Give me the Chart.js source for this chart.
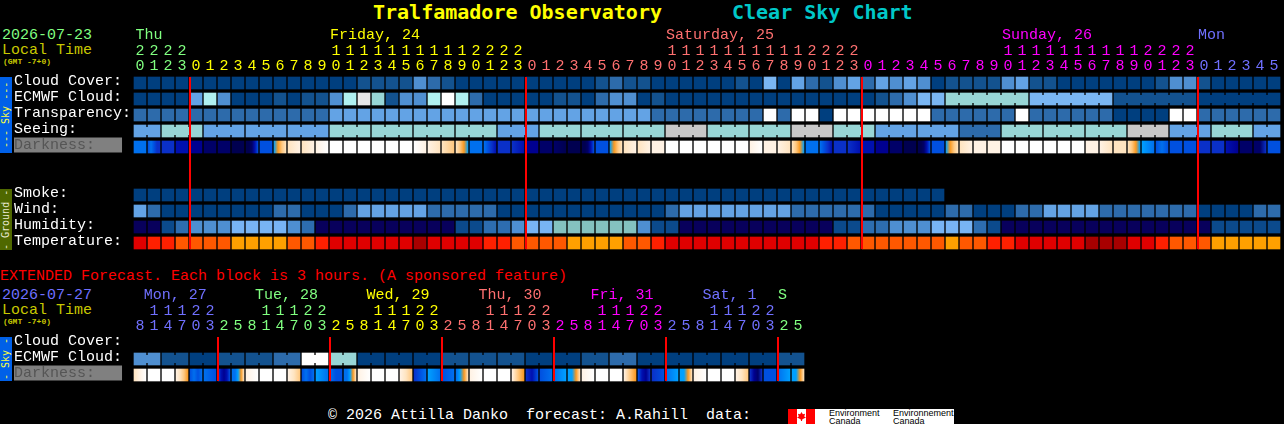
<!DOCTYPE html>
<html>
<head>
<meta charset="utf-8">
<script src="https://cdnjs.cloudflare.com/ajax/libs/Chart.js/4.4.1/chart.umd.min.js"></script>
<style>
  body { margin:0; background:#000; width:1284px; height:424px; overflow:hidden; position:relative; }
  canvas { position:absolute; left:0; }
  .t { position:absolute; white-space:pre; font-family:"Liberation Mono",monospace; font-size:15px; line-height:15px; }
  .title { font-family:"DejaVu Sans Mono",monospace; font-weight:bold; font-size:20px; line-height:24px; }
  .tiny { font-size:8px; line-height:8px; font-weight:bold; color:#c8c800; }
  .side { position:absolute; left:0; width:12px; writing-mode:vertical-rl; transform:rotate(180deg); text-align:center;
          font-family:"DejaVu Sans Mono",monospace; font-size:10px; line-height:12px; white-space:pre; }
  #logo { position:absolute; left:788px; top:409px; width:166px; height:15px; background:#fff; overflow:hidden; }
  #logo i { position:absolute; top:0; height:15px; width:9px; background:#f00; }
  #logo b { position:absolute; left:9px; top:3px; width:9px; height:9px; background:#f00;
            clip-path:polygon(50% 0,65% 25%,90% 20%,80% 50%,100% 60%,60% 80%,55% 100%,45% 100%,40% 80%,0 60%,20% 50%,10% 20%,35% 25%); }
  #logo span { position:absolute; font:9px/8px "Liberation Sans",sans-serif; color:#000; white-space:pre; top:0; }
</style>
<script>
// hour of each column, main forecast
var hours = ["20","21","22","23","0","1","2","3","4","5","6","7","8","9","10","11","12","13","14","15","16","17","18","19","20","21","22","23",
  "0","1","2","3","4","5","6","7","8","9","10","11","12","13","14","15","16","17","18","19","20","21","22","23",
  "0","1","2","3","4","5","6","7","8","9","10","11","12","13","14","15","16","17","18","19","20","21","22","23",
  "0","1","2","3","4","5"];
// which day each column belongs to
var hourDay = [0,0,0,0, 1,1,1,1,1,1,1,1,1,1,1,1,1,1,1,1,1,1,1,1,1,1,1,1,
  2,2,2,2,2,2,2,2,2,2,2,2,2,2,2,2,2,2,2,2,2,2,2,2,
  3,3,3,3,3,3,3,3,3,3,3,3,3,3,3,3,3,3,3,3,3,3,3,3, 4,4,4,4,4,4];
var dayNames = ["Thu","Friday, 24","Saturday, 25","Sunday, 26","Mon"];
var dayCols = [0.1,14,38,62,76];
var dayColors = ["#80ff80","#ffff00","#ff7070","#ff00ff","#7070ff"];
var midnightCols = [4,28,52,76];
var rowLabels = ["Cloud Cover:","ECMWF Cloud:","Transparency:","Seeing:","Darkness:   ","","","Smoke:","Wind:","Humidity:","Temperature:"];

// levels, looked up in the palettes further down
var cloud = [0,0,0,0,0,0,0,0,0,0,0,0,0,0,0,0,1,1,1,1,3,2,1,0,0,0,0,0,0,0,0,0,0,1,2,1,1,0,0,0,0,0,0,1,0,5,0,4,2,1,3,4,
  2,4,3,4,3,0,1,1,1,1,3,4,1,1,0,0,0,0,0,0,0,1,3,3,1,0,0,0,0,0];
var ecmwf = [0,0,0,0,4,7,3,0,0,0,1,0,1,1,3,7,8,6,1,3,3,7,9,7,2,0,0,0,0,0,1,1,0,2,3,3,0,1,0,0,0,0,0,0,0,0,0,0,0,0,0,0,
  0,1,2,3,5,5,6,6,6,6,6,6,5,5,5,5,5,5,1,1,1,1,1,1,0,0,0,0,0,0];
var transparency = [2,2,2,2,2,2,2,2,2,2,2,2,2,2,4,4,4,4,4,4,4,4,4,4,4,4,4,4,4,4,4,4,4,4,4,4,4,2,2,2,2,2,2,2,2,9,2,9,9,0,9,9,
  9,9,9,9,9,2,2,2,2,2,2,9,2,2,2,2,2,2,0,0,0,0,9,9,2,2,2,2,2,2];
var seeing = [4,4,6,6,6,4,4,4,4,4,4,4,4,4,6,6,6,6,6,6,6,6,6,6,6,6,4,4,4,6,6,6,6,6,6,6,6,6,10,10,10,6,6,6,6,6,6,10,10,10,6,6,
  6,4,4,4,4,4,4,2,2,2,6,6,6,6,6,6,6,6,6,10,10,10,4,4,4,6,6,6,4,4];
var seeingBlocks = [2,3,3,3,3,3,3,3,3,3,3,3,3,3,3,3,3,3,3,3,3,3,3,3,3,3,3,2];
var ecmwfBlocks = [58,6,6,6,6];
var darkness = [[6],[5,6,5,4,4],[4],[3],[2],[1],[1],[0],[0,0,1,3,5],[5],[7,8,9,10],[10,11],[10,11],[11,12],[12],[12],[12],[12],[12],[12],
  [12,11],[11,10],[10,9],[10,9,8,7],[6],[6,5,4,3],[4],[4,3],[2],[1],[1,0],[0],[0,0,1,3,5],[5],[7,8,9,10],[10,11],[10,11],[11],[12],[12],[12],[12],[12],[12],
  [11,12],[11],[11,10],[10,9,8,7],[6],[6,5,4,3],[4],[4,3],[3],[2],[1],[0],[0,0,1,3,5],[5],[7,8,9,10],[10,11],[11],[11],[12],[12],[12],[12],[12],[12],
  [11],[11,10],[10],[10,9,8,7],[7,6],[5,6,5],[5],[5],[4],[4],[3,2],[1],[1,1,4],[5]];
var smoke = [0,0,0,0,0,0,0,0,0,0,0,0,0,0,0,0,0,0,0,0,0,0,0,0,0,0,0,0,0,0,0,0,0,0,0,0,0,0,0,0,0,0,0,0,0,0,0,0,0,0,0,0,
  0,0,0,0,0,0,null,null,null,null,null,null,null,null,null,null,null,null,null,null,null,null,null,null,null,null,null,null,null,null];
var wind = [4,2,0,0,0,0,0,0,0,0,2,2,0,0,0,2,4,4,4,4,4,2,2,2,2,2,0,0,0,0,0,0,0,0,0,0,0,0,2,4,4,4,4,4,4,4,4,2,2,2,2,2,
  2,0,0,0,0,0,2,2,0,0,0,2,2,4,4,4,4,2,2,2,2,2,2,2,0,0,0,0,2,2];
var humidity = [0,0,1,2,3,3,3,4,4,4,4,3,2,0,0,0,0,0,0,0,0,0,0,1,1,2,2,3,4,4,5,5,5,5,5,5,3,1,1,0,0,0,0,0,0,0,0,0,0,0,1,1,
  2,2,3,3,3,4,4,4,2,1,0,0,0,0,0,0,0,0,0,0,0,0,0,0,0,1,1,1,1,1];
var temperature = [1,2,2,3,3,3,3,4,4,4,4,3,3,2,1,1,1,1,1,1,0,1,1,1,1,2,2,3,3,3,3,4,4,4,4,3,3,2,1,1,1,1,1,1,1,1,1,1,1,2,2,3,
  3,3,3,3,3,3,4,3,3,2,2,1,1,1,1,1,0,0,0,1,1,2,3,3,3,4,4,4,4,4];

// extended forecast, 3 hour blocks
var extHours = ["8","11","14","17","20","23","2","5","8","11","14","17","20","23","2","5","8","11","14","17","20","23","2","5",
  "8","11","14","17","20","23","2","5","8","11","14","17","20","23","2","5","8","11","14","17","20","23","2","5"];
var extHourDay = [0,0,0,0,0,0, 1,1,1,1,1,1,1,1, 2,2,2,2,2,2,2,2, 3,3,3,3,3,3,3,3, 4,4,4,4,4,4,4,4, 5,5,5,5,5,5,5,5, 6,6];
var extDayNames = ["Mon, 27","Tue, 28","Wed, 29","Thu, 30","Fri, 31","Sat, 1","S"];
var extDayX = [0.7,8.65,16.6,24.6,32.6,40.6,46];
var extDayColors = ["#7070ff","#80ff80","#ffff00","#ff7070","#ff00ff","#7070ff","#80ff80"];
var extMidnightCols = [6,14,22,30,38,46];
var extRowLabels = ["Cloud Cover:","ECMWF Cloud:","Darkness:   "];
var extEcmwf = [3,3,1,1,0,0,1,1,1,1,2,2,9,9,6,6,0,0,0,0,0,0,1,1,1,1,1,1,0,0,0,0,1,1,2,2,0,0,0,0,0,0,0,0,0,0,1,1];
var extEcmwfBlocks = [2,2,2,2,2,2,2,2,2,2,2,2,2,2,2,2,2,2,2,2,2,2,2,2];
var extDarkness = [[10,11,12],[12],[12],[11,10,9,8],[5,6,5,6],[6,5],[5,3,2,3,5],[6,6,7,8,10],[11,12],[12],[12],[11,10,9],
  [5,6,5,6],[7,6],[6,5,5],[6,6,7,8,10],[11,12],[12],[12],[11,10,9],[4,5,6],[7,6],[5,6],[6,7,8,10],
  [11,12],[12],[12],[11,9,8],[4,3,5],[5,6],[6,7],[7,7,8,10],[11,12],[12],[12],[11,9,8],
  [5,3,2,4],[4,5],[6,7],[7,7,8,10],[11,12],[12],[12],[11,10,9],[4,2,1,4],[5],[6,7],[7,7,8,10]];

// palettes
var skyColors = ["#003f7f","#13528f","#2d6bab","#4f8fd1","#63a3e5","#7ab6f2","#98d6d6","#b0f0f0","#e8e8e8","#ffffff","#c8c8c8"];
var humidityColors = ["#08005c","#0b4a8c","#2d6db0","#4e8fd2","#78b4f4","#84c2c0"];
var temperatureColors = ["#a80000","#e00000","#ff2000","#ff5800","#ffa000"];
var darknessColors = ["#000050","#000068","#000090","#0010b0","#0a30c8","#0050e0","#0070ee","#00a0ff","#f89820","#ffc880","#ffe4c0","#fff2e4","#ffffff"];

var FONT = "'Liberation Mono', monospace";
var CELL = 12, JOIN = 8;

function rowBars(values, row, palette) {
  return {
    type: 'bar', label: rowLabels[row] || '',
    data: values.map(function(v) { return v === null ? null : [row - 0.375, row + 0.375]; }),
    backgroundColor: function(c) { var v = values[c.dataIndex]; return palette[v === undefined || v === null ? 0 : v]; },
    barThickness: CELL, grouped: false, borderWidth: 0
  };
}

function darkBars(cells, row) {
  return {
    type: 'bar', label: 'Darkness',
    data: cells.map(function() { return [row - 0.375, row + 0.375]; }),
    backgroundColor: function(c) {
      var stops = cells[c.dataIndex];
      if (!stops) return '#000';
      if (stops.length == 1) return darknessColors[stops[0]];
      var x = c.chart.scales.x.getPixelForValue(c.dataIndex);
      // options of the first element get resolved once before the layout is done
      if (!isFinite(x)) return darknessColors[stops[0]];
      var g = c.chart.ctx.createLinearGradient(x - CELL / 2, 0, x + CELL / 2, 0);
      for (var i = 0; i < stops.length; i++) g.addColorStop(i / (stops.length - 1), darknessColors[stops[i]]);
      return g;
    },
    barThickness: CELL, grouped: false, borderWidth: 0
  };
}

// the narrow bridge between cells of one multi-hour block
function blockJoin(values, blocks, row, palette) {
  var blockOf = [], n = 0;
  blocks.forEach(function(len, b) { for (var i = 0; i < len; i++) blockOf[n++] = b; });
  var first = blocks.length > 1 && blocks[0] > 6 ? blocks[0] : 0;
  return {
    type: 'line', label: 'join',
    data: values.map(function(v, i) { return i < first ? null : row; }),
    borderWidth: JOIN, pointRadius: 0, borderCapStyle: 'butt', tension: 0,
    segment: { borderColor: function(c) {
      return blockOf[c.p0DataIndex] === blockOf[c.p1DataIndex] ? palette[values[c.p0DataIndex]] : 'rgba(0,0,0,0)';
    } }
  };
}

function hourTick(v, i, labels) {
  var s = labels[i];
  return s.length > 1 ? [s[0], s[1]] : ['', s];
}

function makeChart(id, labels, colorOf, rows, lines, dayNamesIn, dayPos, dayCol, yMax, datasets) {
  var overlay = {
    id: 'overlay',
    afterDatasetsDraw: function(chart) {
      var ctx = chart.ctx, x = chart.scales.x, y = chart.scales.y;
      var top = y.getPixelForValue(0) - CELL / 2, bottom = y.getPixelForValue(yMax) + CELL / 2;
      ctx.save();
      ctx.fillStyle = '#ff0000';
      lines.forEach(function(c) { ctx.fillRect(x.getPixelForValue(c) - 7, top, 2, bottom - top); });
      ctx.restore();
    },
    afterDraw: function(chart) {
      var ctx = chart.ctx, x = chart.scales.x;
      ctx.save();
      ctx.font = "15px " + FONT;
      ctx.textAlign = 'left'; ctx.textBaseline = 'middle';
      dayNamesIn.forEach(function(name, i) {
        ctx.fillStyle = dayCol[i];
        ctx.fillText(name, x.left + 1 + dayPos[i] * 14, 35);
      });
      ctx.restore();
    }
  };
  return new Chart(document.getElementById(id), {
    data: { labels: labels, datasets: datasets },
    plugins: [overlay],
    options: {
      responsive: false, animation: false, devicePixelRatio: 1,
      layout: { padding: { left: 14, right: 3, top: 0, bottom: 0 } },
      plugins: { legend: { display: false }, tooltip: { enabled: false }, title: { display: false } },
      events: [],
      scales: {
        x: {
          type: 'category', position: 'top', offset: true,
          grid: { display: false, drawTicks: false }, border: { display: false },
          afterFit: function(s) { s.height = 75; },
          ticks: {
            autoSkip: false, maxRotation: 0, minRotation: 0, padding: 1,
            font: { family: FONT, size: 15, lineHeight: '15px' },
            color: function(c) { return colorOf(c.index); },
            callback: function(v, i) { return hourTick(v, i, labels); }
          }
        },
        y: {
          type: 'linear', reverse: true, min: -0.5, max: yMax + 0.5,
          grid: { display: false, drawTicks: false }, border: { display: false },
          // the tick labels would otherwise reserve half a line under the last row
          afterFit: function(s) { s.width = 119; s.paddingTop = 0; s.paddingBottom = 0; },
          // labels sit 2px above the middle of their row
          afterBuildTicks: function(s) { s.ticks = rows.map(function(r, i) { return { value: i - 0.125 }; }); },
          ticks: {
            autoSkip: false, crossAlign: 'far', padding: 0,
            font: { family: FONT, size: 15, lineHeight: '15px' },
            color: function(c) { return rows[c.index] && rows[c.index].indexOf('Darkness') == 0 ? '#555555' : '#ffffff'; },
            showLabelBackdrop: function(c) { return !!rows[c.index] && rows[c.index].indexOf('Darkness') == 0; },
            backdropColor: '#808080', backdropPadding: 0,
            callback: function(v, i) { return rows[i]; }
          }
        }
      }
    }
  });
}

function draw() {
  makeChart('mainChart', hours, function(i) { return dayColors[hourDay[i]]; }, rowLabels, midnightCols,
    dayNames, dayCols, dayColors, 10, [
      rowBars(cloud, 0, skyColors),
      rowBars(ecmwf, 1, skyColors),
      blockJoin(ecmwf, ecmwfBlocks, 1, skyColors),
      rowBars(transparency, 2, skyColors),
      rowBars(seeing, 3, skyColors),
      blockJoin(seeing, seeingBlocks, 3, skyColors),
      darkBars(darkness, 4),
      rowBars(smoke, 7, skyColors),
      rowBars(wind, 8, skyColors),
      rowBars(humidity, 9, humidityColors),
      rowBars(temperature, 10, temperatureColors)
    ]);
  makeChart('extChart', extHours, function(i) { return extDayColors[extHourDay[i]]; }, extRowLabels, extMidnightCols,
    extDayNames, extDayX, extDayColors, 2, [
      rowBars(extEcmwf, 1, skyColors),
      blockJoin(extEcmwf, extEcmwfBlocks, 1, skyColors),
      darkBars(extDarkness, 2)
    ]);
}
</script>
</head>
<body onload="draw()">
<div class="t title" style="left:373px;top:0;color:#ffff00">Tralfamadore Observatory</div>
<div class="t title" style="left:732px;top:0;color:#00c8c8">Clear Sky Chart</div>

<div class="t" style="left:2px;top:28px;color:#80ff80">2026-07-23</div>
<div class="t" style="left:2px;top:43px;color:#c8c800">Local Time</div>
<div class="t tiny" style="left:3px;top:58px">(GMT -7+0)</div>
<div class="side" style="top:77px;height:76px;background:#0060e8;color:#ffff40">--- Sky ---</div>
<div class="side" style="top:189px;height:61px;background:#4f6800;color:#e8e8d0">- Ground -</div>
<canvas id="mainChart" width="1284" height="251" style="top:0"></canvas>

<div class="t" style="left:0;top:269px;color:#ff0000">EXTENDED Forecast. Each block is 3 hours. (A sponsored feature)</div>
<div class="t" style="left:2px;top:288px;color:#7070ff">2026-07-27</div>
<div class="t" style="left:2px;top:303px;color:#c8c800">Local Time</div>
<div class="t tiny" style="left:3px;top:318px">(GMT -7+0)</div>
<div class="side" style="top:337px;height:44px;background:#0060e8;color:#ffff40">- Sky -</div>
<canvas id="extChart" width="808" height="123" style="top:260px"></canvas>

<div class="t" style="left:328px;top:408px;color:#ffffff">© 2026 Attilla Danko  forecast: A.Rahill  data:</div>
<div id="logo"><i style="left:0"></i><b></b><i style="left:18px"></i>
  <span style="left:41px">Environment
Canada</span><span style="left:105px">Environnement
Canada</span></div>
</body>
</html>
